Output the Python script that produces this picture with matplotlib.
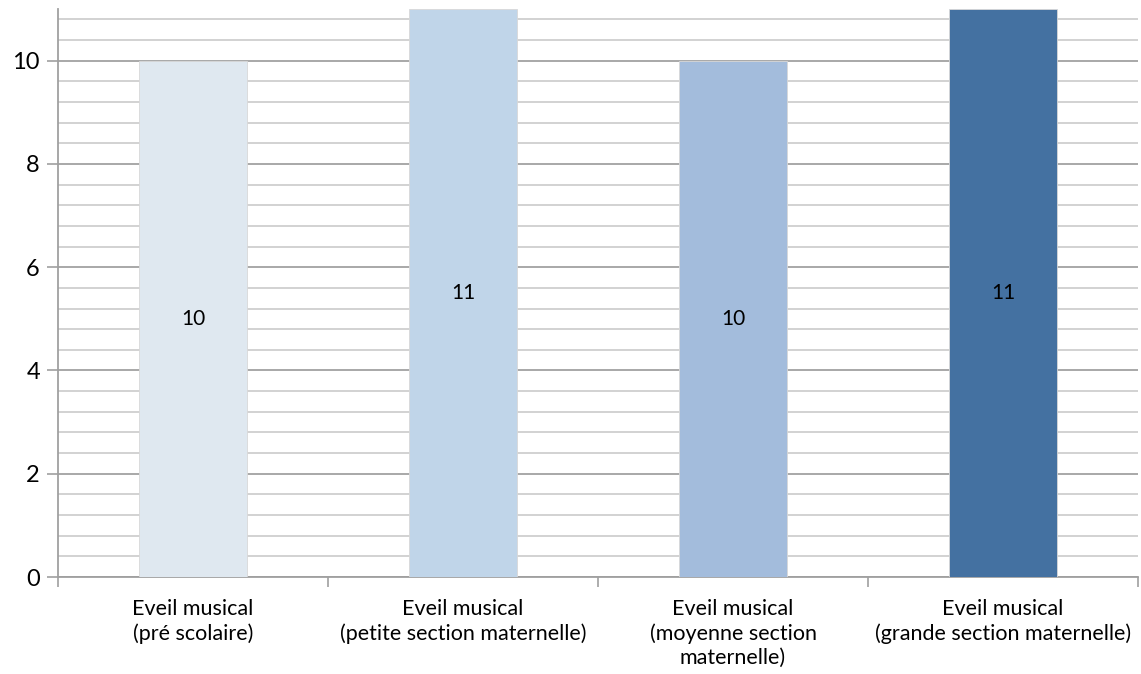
import matplotlib.pyplot as plt
import numpy as np

categories = [
    "Eveil musical\n(pré scolaire)",
    "Eveil musical\n(petite section maternelle)",
    "Eveil musical\n(moyenne section\nmaternelle)",
    "Eveil musical\n(grande section maternelle)",
]
values = [10, 11, 10, 11]
colors = ["#DFE8F0", "#C0D5E9", "#A3BCDC", "#4471A1"]

plt.rcParams['font.family'] = ['Lato', 'DejaVu Sans']

fig = plt.figure(figsize=(11.41, 6.74), dpi=100)
ax = fig.add_axes([0.0508, 0.1439, 0.9466, 0.8427])

x = np.arange(len(categories))
bars = ax.bar(x, values, width=0.4, color=colors, zorder=3,
              edgecolor="#d8d8d8", linewidth=0.6)

for b, v in zip(bars, values):
    ax.text(b.get_x() + b.get_width() / 2, v / 2, str(v),
            ha="center", va="center", fontsize=15, color="black", zorder=4)

ax.set_xlim(-0.5, len(categories) - 0.5)
ax.set_ylim(0, 11)

# gridlines: major every 2, minor every 0.4
ax.set_yticks(np.arange(0, 11, 2))
ax.set_yticks(np.arange(0, 11.01, 0.4), minor=True)
ax.yaxis.grid(True, which="major", color="#a8a8a8", linewidth=1.4, zorder=0)
ax.yaxis.grid(True, which="minor", color="#cfcfcf", linewidth=1.3, zorder=0)
ax.tick_params(axis="y", which="minor", length=0)
ax.tick_params(axis="y", which="major", length=8, width=1.2, color="#a0a0a0",
               labelsize=17, pad=5)

# x ticks at category boundaries, labels centred under bars
ax.set_xticks(np.arange(-0.5, len(categories), 1))
ax.set_xticklabels([])
ax.set_xticks(x, minor=True)
ax.set_xticklabels(categories, minor=True, fontsize=15.5, linespacing=1.25)
ax.tick_params(axis="x", which="major", length=7, width=1.2, color="#a0a0a0")
ax.tick_params(axis="x", which="minor", length=0, pad=16)

for s in ["top", "right"]:
    ax.spines[s].set_visible(False)
for s in ["left", "bottom"]:
    ax.spines[s].set_color("#a0a0a0")
    ax.spines[s].set_linewidth(1.3)

fig.savefig("out.png", dpi=100)
